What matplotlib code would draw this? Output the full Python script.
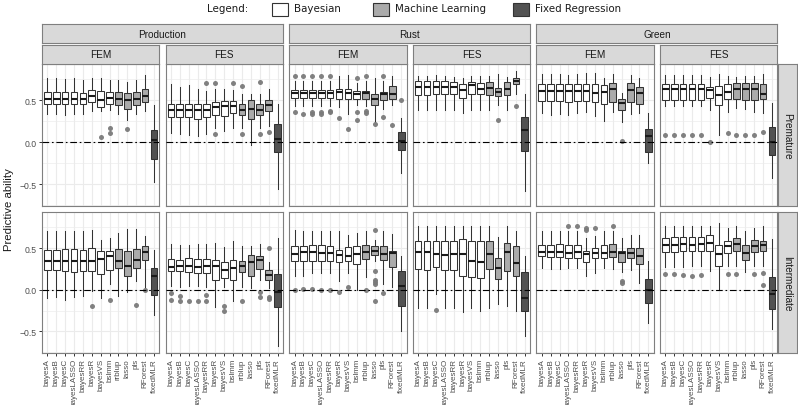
import matplotlib
matplotlib.use("Agg")
import matplotlib.pyplot as plt
from matplotlib.patches import Rectangle

# ---------------- data ----------------
METHODS = ["bayesA", "bayesB", "bayesC", "bayesLASSO", "bayesRR", "bayesR", "bayesVS",
           "bslmm", "rrblup", "lasso", "pls", "RForest", "fixedMLR"]
GROUPS = ["Bayesian"] * 8 + ["Machine Learning"] * 4 + ["Fixed Regression"]
TRAITS = ["Production", "Rust", "Green"]
ENVS = ["FEM", "FES"]
STAGES = ["Premature", "Intermediate"]
LEGEND_LABELS = ["Bayesian", "Machine Learning", "Fixed Regression"]

# each entry: (lower whisker, Q1, median, Q3, upper whisker)
PROD_FEM_PRE = [(0.34, 0.45, 0.51, 0.60, 0.76), (0.34, 0.45, 0.51, 0.60, 0.76), (0.33, 0.45, 0.51, 0.60, 0.75),
                (0.34, 0.45, 0.51, 0.60, 0.76), (0.34, 0.45, 0.51, 0.59, 0.74), (0.37, 0.48, 0.55, 0.62, 0.76),
                (0.37, 0.42, 0.50, 0.61, 0.76), (0.38, 0.46, 0.53, 0.60, 0.74), (0.34, 0.44, 0.51, 0.60, 0.74),
                (0.26, 0.40, 0.50, 0.59, 0.72), (0.34, 0.44, 0.52, 0.60, 0.74), (0.37, 0.48, 0.55, 0.63, 0.80),
                (-0.47, -0.20, 0.03, 0.15, 0.44)]
PROD_FEM_PRE_OUT = [[], [], [], [], [], [], [0.06], [0.17, 0.11], [], [0.16], [], [], []]

PROD_FES_PRE = [(0.11, 0.30, 0.39, 0.46, 0.69), (0.10, 0.30, 0.39, 0.46, 0.66), (0.09, 0.30, 0.39, 0.46, 0.68),
                (0.08, 0.28, 0.39, 0.46, 0.63), (0.10, 0.30, 0.38, 0.46, 0.61), (0.17, 0.33, 0.42, 0.48, 0.63),
                (0.14, 0.31, 0.43, 0.49, 0.63), (0.17, 0.35, 0.43, 0.49, 0.62), (0.17, 0.33, 0.39, 0.45, 0.58),
                (-0.03, 0.28, 0.40, 0.50, 0.58), (0.17, 0.32, 0.38, 0.45, 0.58), (0.20, 0.37, 0.44, 0.50, 0.64),
                (-0.55, -0.11, 0.04, 0.22, 0.45)]
PROD_FES_PRE_OUT = [[], [], [], [], [0.70], [0.70, 0.10], [], [0.71], [0.67, 0.10], [], [0.72, 0.10], [0.12], []]

RUST_FEM_PRE = [(0.43, 0.53, 0.59, 0.62, 0.73), (0.43, 0.53, 0.59, 0.62, 0.73), (0.43, 0.53, 0.59, 0.62, 0.73),
                (0.43, 0.53, 0.59, 0.62, 0.73), (0.43, 0.53, 0.59, 0.62, 0.73), (0.42, 0.52, 0.60, 0.635, 0.79),
                (0.34, 0.51, 0.59, 0.63, 0.80), (0.44, 0.52, 0.58, 0.61, 0.70), (0.43, 0.52, 0.59, 0.615, 0.73),
                (0.24, 0.44, 0.52, 0.58, 0.76), (0.40, 0.50, 0.575, 0.60, 0.73), (0.44, 0.52, 0.58, 0.67, 0.79),
                (-0.37, -0.09, 0.02, 0.12, 0.29)]
RUST_FEM_PRE_OUT = [[0.79, 0.36], [0.79, 0.34], [0.79, 0.36, 0.34], [0.79, 0.36, 0.34], [0.79, 0.37, 0.36],
                    [0.29], [0.16], [0.76, 0.36, 0.27], [0.79, 0.37, 0.35], [0.22], [0.79, 0.30], [0.21], [0.50]]

RUST_FES_PRE = [(0.38, 0.56, 0.655, 0.73, 0.79), (0.38, 0.56, 0.655, 0.73, 0.79), (0.38, 0.57, 0.66, 0.73, 0.80),
                (0.38, 0.57, 0.66, 0.73, 0.79), (0.38, 0.57, 0.66, 0.72, 0.78), (0.35, 0.53, 0.62, 0.69, 0.76),
                (0.38, 0.58, 0.68, 0.72, 0.79), (0.38, 0.58, 0.63, 0.71, 0.79), (0.38, 0.56, 0.65, 0.72, 0.79),
                (0.44, 0.55, 0.60, 0.65, 0.81), (0.38, 0.56, 0.63, 0.72, 0.78), (0.58, 0.69, 0.73, 0.77, 0.85),
                (-0.58, -0.10, 0.15, 0.30, 0.58)]
RUST_FES_PRE_OUT = [[], [], [], [], [], [], [], [], [], [0.27], [], [0.43], []]

GREEN_FEM_PRE = [(0.35, 0.49, 0.61, 0.69, 0.81), (0.33, 0.49, 0.61, 0.69, 0.81), (0.34, 0.49, 0.61, 0.69, 0.81),
                 (0.32, 0.48, 0.61, 0.69, 0.80), (0.35, 0.49, 0.61, 0.69, 0.81), (0.36, 0.49, 0.61, 0.69, 0.82),
                 (0.31, 0.48, 0.59, 0.69, 0.82), (0.25, 0.46, 0.60, 0.68, 0.77), (0.36, 0.48, 0.63, 0.70, 0.81),
                 (0.24, 0.39, 0.47, 0.52, 0.59), (0.34, 0.48, 0.62, 0.70, 0.80), (0.35, 0.46, 0.59, 0.66, 0.76),
                 (-0.25, -0.12, 0.07, 0.16, 0.35)]
GREEN_FEM_PRE_OUT = [[], [], [], [], [], [], [], [], [], [0.01], [], [], []]

GREEN_FES_PRE = [(0.43, 0.50, 0.63, 0.69, 0.80), (0.43, 0.50, 0.63, 0.69, 0.80), (0.43, 0.50, 0.63, 0.69, 0.80),
                 (0.43, 0.50, 0.63, 0.69, 0.80), (0.43, 0.50, 0.63, 0.69, 0.80), (0.39, 0.53, 0.62, 0.66, 0.78),
                 (0.09, 0.44, 0.56, 0.67, 0.81), (0.36, 0.51, 0.60, 0.69, 0.79), (0.41, 0.52, 0.63, 0.70, 0.78),
                 (0.40, 0.50, 0.63, 0.70, 0.79), (0.36, 0.50, 0.64, 0.71, 0.79), (0.35, 0.52, 0.58, 0.69, 0.81),
                 (-0.42, -0.15, 0.00, 0.18, 0.47)]
GREEN_FES_PRE_OUT = [[0.09], [0.09], [0.09], [0.09], [0.09], [0.00], [], [0.11], [0.09], [0.09], [0.09], [0.12], []]

PROD_FEM_INT = [(-0.10, 0.24, 0.35, 0.48, 0.70), (-0.09, 0.24, 0.35, 0.48, 0.70), (-0.12, 0.22, 0.34, 0.49, 0.70),
                (-0.09, 0.21, 0.34, 0.49, 0.70), (-0.07, 0.23, 0.35, 0.48, 0.70), (-0.02, 0.23, 0.34, 0.50, 0.72),
                (-0.10, 0.19, 0.37, 0.47, 0.60), (0.07, 0.24, 0.41, 0.47, 0.62), (-0.07, 0.26, 0.35, 0.49, 0.68),
                (-0.03, 0.16, 0.29, 0.46, 0.73), (0.10, 0.26, 0.36, 0.49, 0.73), (0.02, 0.36, 0.45, 0.53, 0.65),
                (-0.30, -0.06, 0.17, 0.26, 0.48)]
PROD_FEM_INT_OUT = [[], [], [], [], [], [-0.19], [], [-0.12], [], [], [-0.18], [0.00], []]

PROD_FES_INT = [(0.05, 0.22, 0.27, 0.37, 0.55), (0.03, 0.22, 0.28, 0.36, 0.54), (0.04, 0.21, 0.28, 0.38, 0.54),
                (0.04, 0.20, 0.27, 0.37, 0.55), (0.03, 0.20, 0.28, 0.37, 0.55), (-0.21, 0.12, 0.28, 0.36, 0.56),
                (0.03, 0.14, 0.24, 0.33, 0.51), (-0.14, 0.12, 0.26, 0.36, 0.58), (0.03, 0.21, 0.28, 0.35, 0.53),
                (0.02, 0.16, 0.33, 0.42, 0.52), (0.12, 0.25, 0.36, 0.41, 0.55), (0.02, 0.12, 0.18, 0.24, 0.33),
                (-0.68, -0.21, -0.03, 0.19, 0.62)]
PROD_FES_INT_OUT = [[-0.04, -0.12], [-0.07, -0.13], [-0.14], [-0.14], [-0.06, -0.14], [], [-0.19, -0.25], [],
                    [-0.14], [], [-0.03, -0.09], [0.50, -0.09, -0.11], []]

RUST_FEM_INT = [(0.17, 0.35, 0.43, 0.53, 0.72), (0.17, 0.35, 0.45, 0.52, 0.71), (0.20, 0.35, 0.45, 0.54, 0.71),
                (0.20, 0.35, 0.44, 0.54, 0.71), (0.20, 0.35, 0.44, 0.53, 0.71), (0.10, 0.33, 0.42, 0.48, 0.70),
                (0.20, 0.34, 0.40, 0.51, 0.66), (0.00, 0.31, 0.43, 0.53, 0.68), (0.15, 0.37, 0.45, 0.54, 0.70),
                (0.34, 0.42, 0.46, 0.52, 0.60), (0.07, 0.36, 0.43, 0.52, 0.70), (0.03, 0.27, 0.44, 0.47, 0.67),
                (-0.50, -0.19, 0.05, 0.22, 0.41)]
RUST_FEM_INT_OUT = [[0.00], [0.01], [0.01], [0.00], [0.00], [-0.03], [0.03], [], [0.00],
                    [0.72, 0.23, 0.12, 0.09, 0.07, -0.13], [-0.04], [], []]

RUST_FES_INT = [(-0.22, 0.25, 0.45, 0.58, 0.77), (-0.22, 0.24, 0.45, 0.58, 0.77), (-0.05, 0.27, 0.43, 0.58, 0.77),
                (-0.22, 0.24, 0.42, 0.59, 0.77), (-0.22, 0.24, 0.43, 0.58, 0.77), (-0.27, 0.17, 0.43, 0.61, 0.77),
                (-0.22, 0.15, 0.35, 0.58, 0.77), (-0.25, 0.14, 0.33, 0.58, 0.77), (-0.22, 0.25, 0.43, 0.58, 0.77),
                (-0.17, 0.13, 0.26, 0.38, 0.63), (-0.19, 0.22, 0.45, 0.56, 0.77), (-0.25, 0.16, 0.32, 0.52, 0.70),
                (-0.55, -0.25, -0.10, 0.21, 0.41)]
RUST_FES_INT_OUT = [[], [], [-0.24], [], [], [], [], [], [], [], [], [], []]

GREEN_FEM_INT = [(0.26, 0.40, 0.45, 0.54, 0.70), (0.25, 0.39, 0.45, 0.54, 0.70), (0.25, 0.39, 0.45, 0.55, 0.70),
                 (0.26, 0.38, 0.44, 0.54, 0.70), (0.26, 0.38, 0.45, 0.54, 0.70), (0.16, 0.33, 0.43, 0.47, 0.62),
                 (0.20, 0.38, 0.44, 0.50, 0.64), (0.26, 0.38, 0.44, 0.54, 0.70), (0.25, 0.39, 0.45, 0.55, 0.70),
                 (0.21, 0.33, 0.44, 0.47, 0.62), (0.24, 0.38, 0.44, 0.50, 0.66), (0.08, 0.31, 0.41, 0.50, 0.66),
                 (-0.40, -0.16, 0.00, 0.13, 0.35)]
GREEN_FEM_INT_OUT = [[], [], [], [0.77], [0.77], [0.74, 0.72], [0.74], [], [0.76], [0.10, 0.08], [], [], []]

GREEN_FES_INT = [(0.27, 0.45, 0.54, 0.62, 0.76), (0.27, 0.45, 0.54, 0.63, 0.76), (0.27, 0.46, 0.55, 0.63, 0.76),
                 (0.28, 0.46, 0.54, 0.63, 0.76), (0.28, 0.46, 0.55, 0.63, 0.76), (0.22, 0.46, 0.56, 0.66, 0.77),
                 (0.00, 0.28, 0.43, 0.54, 0.80), (0.28, 0.44, 0.52, 0.59, 0.74), (0.28, 0.47, 0.55, 0.62, 0.76),
                 (0.21, 0.36, 0.44, 0.54, 0.70), (0.28, 0.45, 0.53, 0.60, 0.74), (0.28, 0.46, 0.54, 0.59, 0.76),
                 (-0.47, -0.23, -0.05, 0.15, 0.61)]
GREEN_FES_INT_OUT = [[0.19], [0.19], [0.18], [0.17], [0.18], [], [], [0.19], [0.19], [], [0.19], [0.20, 0.06], []]

PANELS = {
    ("Premature", "Production", "FEM"): (PROD_FEM_PRE, PROD_FEM_PRE_OUT),
    ("Premature", "Production", "FES"): (PROD_FES_PRE, PROD_FES_PRE_OUT),
    ("Premature", "Rust", "FEM"): (RUST_FEM_PRE, RUST_FEM_PRE_OUT),
    ("Premature", "Rust", "FES"): (RUST_FES_PRE, RUST_FES_PRE_OUT),
    ("Premature", "Green", "FEM"): (GREEN_FEM_PRE, GREEN_FEM_PRE_OUT),
    ("Premature", "Green", "FES"): (GREEN_FES_PRE, GREEN_FES_PRE_OUT),
    ("Intermediate", "Production", "FEM"): (PROD_FEM_INT, PROD_FEM_INT_OUT),
    ("Intermediate", "Production", "FES"): (PROD_FES_INT, PROD_FES_INT_OUT),
    ("Intermediate", "Rust", "FEM"): (RUST_FEM_INT, RUST_FEM_INT_OUT),
    ("Intermediate", "Rust", "FES"): (RUST_FES_INT, RUST_FES_INT_OUT),
    ("Intermediate", "Green", "FEM"): (GREEN_FEM_INT, GREEN_FEM_INT_OUT),
    ("Intermediate", "Green", "FES"): (GREEN_FES_INT, GREEN_FES_INT_OUT),
}

# ---------------- style ----------------
FILLS = {"Bayesian": "#FFFFFF", "Machine Learning": "#ABABAB", "Fixed Regression": "#525252"}
EDGE = "#333333"
BORDER = "#7F7F7F"
STRIP_FILL = "#D9D9D9"
GRID = "#EBEBEB"
FONT = ["Liberation Sans", "DejaVu Sans"]
plt.rcParams["font.family"] = FONT

W, H = 798, 406
fig = plt.figure(figsize=(W / 100, H / 100), dpi=100)


def rect(x0, y0, x1, y1):
    return [x0 / W, 1 - y1 / H, (x1 - x0) / W, (y1 - y0) / H]


PW, GAP = 117.3, 6.3
COL_X = [42 + k * (PW + GAP) for k in range(6)]
ROW_Y = [(65, 207), (213, 354)]
YLIM = (-0.758, 0.932)


def strip(x0, y0, x1, y1, label, rotation=0):
    a = fig.add_axes(rect(x0, y0, x1, y1))
    a.set_facecolor(STRIP_FILL)
    a.set_xticks([])
    a.set_yticks([])
    for s in a.spines.values():
        s.set_color(BORDER)
        s.set_linewidth(0.8)
    a.text(0.5, 0.5, label, ha="center", va="center", rotation=rotation,
           fontsize=7.2, color="#1A1A1A", transform=a.transAxes)


positions = list(range(1, len(METHODS) + 1))
for r, stage in enumerate(STAGES):
    y0, y1 = ROW_Y[r]
    for t, trait in enumerate(TRAITS):
        for e, env in enumerate(ENVS):
            c = 2 * t + e
            x0 = COL_X[c]
            ax = fig.add_axes(rect(x0, y0, x0 + PW, y1))
            stats, outs = PANELS[(stage, trait, env)]
            bx = []
            for (lo, q1, med, q3, hi), fl in zip(stats, outs):
                bx.append(dict(whislo=lo, q1=q1, med=med, q3=q3, whishi=hi, fliers=fl))
            art = ax.bxp(bx, positions=positions, widths=0.75, patch_artist=True, showcaps=False,
                         manage_ticks=False,
                         boxprops=dict(edgecolor=EDGE, linewidth=0.75),
                         whiskerprops=dict(color=EDGE, linewidth=0.75),
                         medianprops=dict(color="#1A1A1A", linewidth=1.5, solid_capstyle="butt"),
                         flierprops=dict(marker="o", markersize=3.6, markerfacecolor="#7A7A7A",
                                         markeredgecolor="none", alpha=0.95))
            for patch, g in zip(art["boxes"], GROUPS):
                patch.set_facecolor(FILLS[g])
            ax.axhline(0, color="black", linewidth=0.8, linestyle=(0, (6, 2.5, 1.5, 2.5)), zorder=5)
            ax.set_xlim(0.4, len(METHODS) + 0.6)
            ax.set_ylim(*YLIM)
            ax.set_yticks([-0.5, 0.0, 0.5])
            ax.set_yticks([-0.75, -0.25, 0.25, 0.75], minor=True)
            ax.set_xticks(positions)
            ax.grid(True, which="major", color=GRID, linewidth=0.8)
            ax.grid(True, which="minor", axis="y", color=GRID, linewidth=0.45)
            ax.set_axisbelow(True)
            for s in ax.spines.values():
                s.set_color(BORDER)
                s.set_linewidth(0.8)
            ax.tick_params(which="minor", length=0)
            ax.tick_params(which="major", length=2.5, width=0.7, color="#333333",
                           labelsize=6.2, labelcolor="#4D4D4D", pad=1.2)
            if c == 0:
                ax.set_yticklabels(["\u22120.5", "0.0", "0.5"])
            else:
                ax.tick_params(axis="y", which="major", length=0, labelleft=False)
            if r == 1:
                ax.set_xticklabels(METHODS, rotation=90, fontsize=5.8, color="#4D4D4D")
            else:
                ax.tick_params(axis="x", which="major", length=0, labelbottom=False)

# column strips (FEM / FES) and trait strips
for t, trait in enumerate(TRAITS):
    xa = COL_X[2 * t]
    xb = COL_X[2 * t + 1] + PW
    strip(xa, 25, xb, 44, trait)
    for e, env in enumerate(ENVS):
        c = 2 * t + e
        strip(COL_X[c], 46, COL_X[c] + PW, 65, env)

# row strips
for r, stage in enumerate(STAGES):
    y0, y1 = ROW_Y[r]
    strip(778, y0, 797, y1, stage, rotation=-90)

# y label
fig.text(9 / W, 1 - 210 / H, "Predictive ability", rotation=90, ha="center", va="center",
         fontsize=8.2, color="#1A1A1A")

# legend
fig.text(207 / W, 1 - 9.5 / H, "Legend:", ha="left", va="center", fontsize=7.4,
         family="DejaVu Sans", color="#1A1A1A")
legend_x = [272, 373, 513]
for lx, lab in zip(legend_x, LEGEND_LABELS):
    fig.add_artist(Rectangle((lx / W, 1 - 16.5 / H), 15.5 / W, 13 / H, transform=fig.transFigure,
                             facecolor=FILLS[lab], edgecolor=EDGE, linewidth=0.8))
    fig.text((lx + 22) / W, 1 - 9.5 / H, lab, ha="left", va="center", fontsize=7.4,
             family="DejaVu Sans", color="#1A1A1A")

fig.savefig("out.png", dpi=100, facecolor="white")
